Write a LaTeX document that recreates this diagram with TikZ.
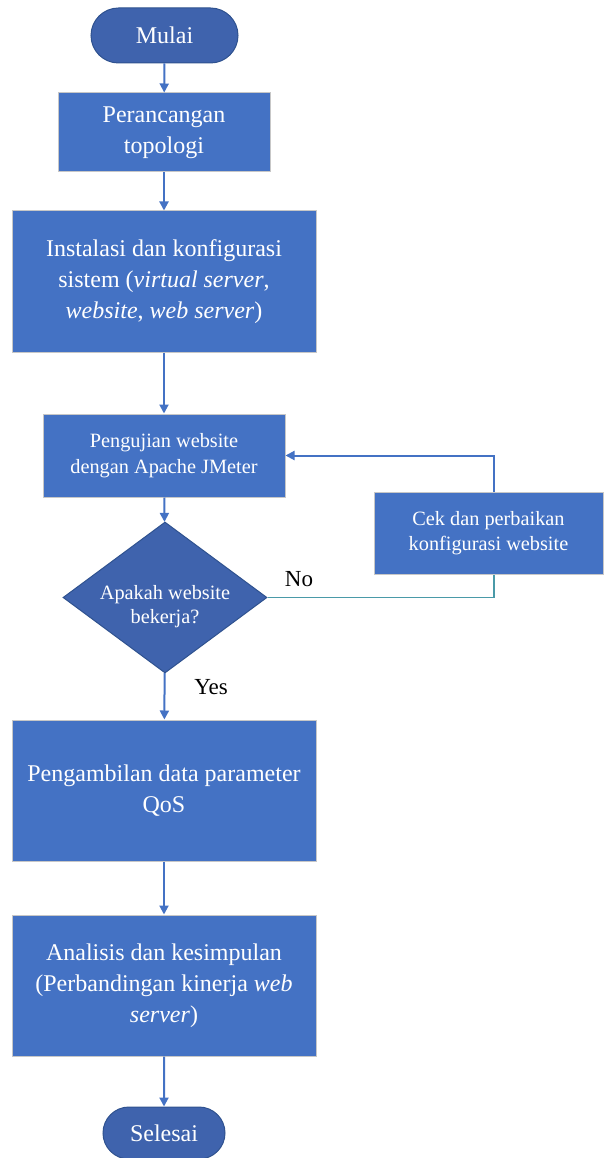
\documentclass[tikz,border=0pt]{standalone}
\usepackage{fontspec}
\setmainfont{Liberation Serif}
\usetikzlibrary{shapes.geometric,shapes.misc,arrows.meta}
\definecolor{boxblue}{HTML}{4472C4}
\definecolor{darkblue}{HTML}{3F63AD}
\definecolor{edgeblue}{HTML}{2F528F}
\definecolor{noteal}{HTML}{4A9AA8}
\begin{document}
\begin{tikzpicture}[x=1pt,y=-1pt,
  procbox/.style={rectangle, fill=boxblue, draw=black!22, line width=1pt, text=white, align=center, inner sep=0pt},
  termbox/.style={rounded rectangle, fill=darkblue, draw=edgeblue, line width=1pt, text=white, align=center, inner sep=0pt, font=\fontsize{24}{28}\selectfont},
  decbox/.style={diamond, fill=darkblue, draw=edgeblue, line width=1pt, inner sep=0pt},
  dectext/.style={text=white, align=center, inner sep=0pt, font=\fontsize{20.3}{24.5}\selectfont},
  bigtext/.style={font=\fontsize{24}{31}\selectfont},
  smalltext/.style={font=\fontsize{20.3}{25.5}\selectfont},
  flow/.style={draw=boxblue, line width=2pt, -{Triangle[width=9pt,length=9pt]}},
  lbl/.style={text=black, font=\fontsize{23}{27}\selectfont, inner sep=0pt}]
\useasboundingbox (0,0) rectangle (603,1158);
\node[termbox, minimum width=147pt, minimum height=55pt] (start) at (164.5,35.5) {Mulai};
\node[procbox, bigtext, minimum width=212pt, minimum height=79pt] (topo) at (164,132.5) {Perancangan\\topologi};
\node[procbox, bigtext, minimum width=304pt, minimum height=141pt] (inst) at (164,281.5) {Instalasi dan konfigurasi\\sistem (\textit{virtual server},\\\textit{website}, \textit{web server})};
\node[procbox, smalltext, minimum width=242pt, minimum height=83pt] (test) at (164,455.5) {Pengujian website\\dengan Apache JMeter};
\node[decbox, minimum width=204pt, minimum height=151pt] (dec) at (165,597.5) {};
\node[dectext] (dect) at ([yshift=-9pt]dec.center) {Apakah website\\bekerja?};
\node[procbox, smalltext, minimum width=229pt, minimum height=82pt] (fix) at (488.5,533) {Cek dan perbaikan\\konfigurasi website};
\node[procbox, bigtext, minimum width=304pt, minimum height=141pt] (qos) at (164,790.5) {Pengambilan data parameter\\QoS};
\node[procbox, bigtext, minimum width=304pt, minimum height=141pt] (ana) at (164,985.5) {Analisis dan kesimpulan\\(Perbandingan kinerja \textit{web}\\\textit{server})};
\node[termbox, minimum width=122pt, minimum height=52pt] (stop) at (164,1133) {Selesai};
\node[lbl] (yes) at (211,687) {Yes};
\node[lbl] (no) at (299,579) {No};
\draw[flow] (start) -- (topo);
\draw[flow] (topo) -- (inst);
\draw[flow] (inst) -- (test);
\draw[flow] (test) -- (dec);
\draw[flow] (dec) -- (qos);
\draw[flow] (qos) -- (ana);
\draw[flow] (ana) -- (stop);
\draw[draw=noteal, line width=1.5pt] (dec.east) -| ([xshift=5.5pt]fix.south);
\draw[flow] ([xshift=5.5pt]fix.north) |- (test.east);
\end{tikzpicture}
\end{document}
